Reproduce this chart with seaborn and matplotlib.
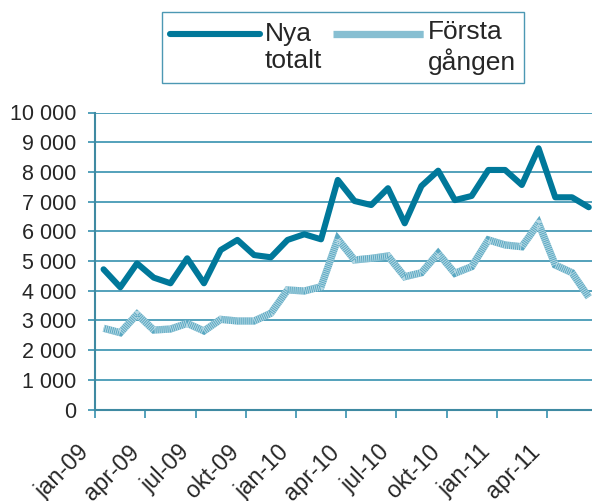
import numpy as np
import pandas as pd
import matplotlib
matplotlib.use("Agg")
import matplotlib.pyplot as plt
import seaborn as sns
from matplotlib.legend_handler import HandlerTuple, HandlerLine2D
from matplotlib.ticker import FuncFormatter, FixedLocator
from matplotlib.transforms import ScaledTranslation

# ---- data ----
months = list(range(30))  # jan-09 .. jun-11
nya_totalt = [4720, 4115, 4920, 4440, 4250, 5090, 4250, 5370, 5710, 5200,
              5125, 5710, 5900, 5730, 7730, 7020, 6885, 7450, 6270, 7525,
              8040, 7050, 7190, 8065, 8065, 7560, 8795, 7145, 7145, 6810]
forsta_gangen = [2735, 2585, 3205, 2675, 2710, 2900, 2645, 3035, 2980, 2980,
                 3240, 4025, 3990, 4135, 5740, 5035, 5090, 5170, 4470, 4605,
                 5260, 4585, 4810, 5710, 5540, 5480, 6270, 4865, 4605, 3780]
tick_labels = ["jan-09", "apr-09", "jul-09", "okt-09", "jan-10",
               "apr-10", "jul-10", "okt-10", "jan-11", "apr-11"]
series_names = ["Nya\ntotalt", "Första\ngången"]

df = pd.DataFrame({"month": months, "nya": nya_totalt, "forsta": forsta_gangen})

sns.set_style("white")
plt.rcParams["font.family"] = ["Liberation Sans", "DejaVu Sans"]
plt.rcParams["lines.scale_dashes"] = False

DARK = "#00789a"
LIGHT = "#5aa8c2"
GRID = "#2588a8"

fig = plt.figure(figsize=(5.92, 5.01), dpi=100)
ax = fig.add_axes([95.2 / 592, (501 - 409.5) / 501, 30 * 16.73 / 592, (409.5 - 112.5) / 501])

sns.lineplot(data=df, x="month", y="nya", ax=ax, color=DARK, lw=4.4,
             solid_capstyle="round", solid_joinstyle="round", zorder=4)
dark_line = ax.get_lines()[-1]
sns.lineplot(data=df, x="month", y="forsta", ax=ax, color=LIGHT, lw=5.2,
             solid_capstyle="butt", solid_joinstyle="miter", zorder=3)
light_base = ax.get_lines()[-1]
sns.lineplot(data=df, x="month", y="forsta", ax=ax, color="white", lw=5.2,
             alpha=0.55, zorder=3.5)
light_over = ax.get_lines()[-1]
light_over.set_dashes([0.72, 0.72])
light_over.set_dash_capstyle("butt")

ax.set_xlabel("")
ax.set_ylabel("")

ax.yaxis.set_major_locator(FixedLocator(np.arange(0, 10001, 1000)))
ax.yaxis.set_major_formatter(FuncFormatter(lambda v, p: f"{int(v):,}".replace(",", " ")))
ax.grid(axis="y", color=GRID, lw=1.1)
ax.grid(axis="x", visible=False)

ax.tick_params(axis="x", direction="out", length=6, width=1.1,
               color=GRID, bottom=True, pad=22)
ax.tick_params(axis="y", direction="out", length=5, width=1.1, color=GRID,
               pad=8.5, labelsize=15.5, left=True)

# ticks at category boundaries, every third month
major_pos = [i * 3 - 0.5 for i in range(10)]
ax.set_xticks(major_pos)
ax.set_xticklabels(tick_labels, rotation=45, ha="right", va="center",
                   rotation_mode="anchor", fontsize=16.8)

ax.set_xlim(-0.5, 29.5)
ax.set_ylim(0, 10000)

for s in ["top", "right"]:
    ax.spines[s].set_visible(False)
for s in ["left", "bottom"]:
    ax.spines[s].set_color("#3f8aa2")
    ax.spines[s].set_linewidth(1.5)


SHIFT = 20.0  # raise handle by SHIFT/2 points


class RaisedLine(HandlerLine2D):
    def create_artists(self, legend, orig_handle, xdescent, ydescent, width,
                       height, fontsize, trans):
        return super().create_artists(legend, orig_handle, xdescent,
                                      ydescent - SHIFT, width, height,
                                      fontsize, trans)


class RaisedTuple(HandlerTuple):
    def create_artists(self, legend, orig_handle, xdescent, ydescent, width,
                       height, fontsize, trans):
        arts = []
        for h in orig_handle:
            arts.extend(RaisedLine().create_artists(legend, h, xdescent, ydescent,
                                                    width, height, fontsize, trans))
        return arts


leg = fig.legend([dark_line, (light_base, light_over)], series_names,
                 handler_map={tuple: RaisedTuple(ndivide=1),
                              type(dark_line): RaisedLine()},
                 loc="upper left", bbox_to_anchor=(162 / 592, 1 - 12 / 501),
                 bbox_transform=fig.transFigure, borderaxespad=0,
                 ncol=2, fontsize=19, handlelength=3.4, handletextpad=0.2,
                 columnspacing=0.4, borderpad=0.3, fancybox=False, frameon=True)
leg.get_frame().set_edgecolor("#1f7fa0")
leg.get_frame().set_linewidth(1.0)

# shift the rotated month labels left so they end before their tick (as in the original)
offset = ScaledTranslation(-10 / 100, 0, fig.dpi_scale_trans)
for lab in ax.get_xticklabels():
    lab.set_transform(lab.get_transform() + offset)

fig.savefig("out.png", dpi=100)
